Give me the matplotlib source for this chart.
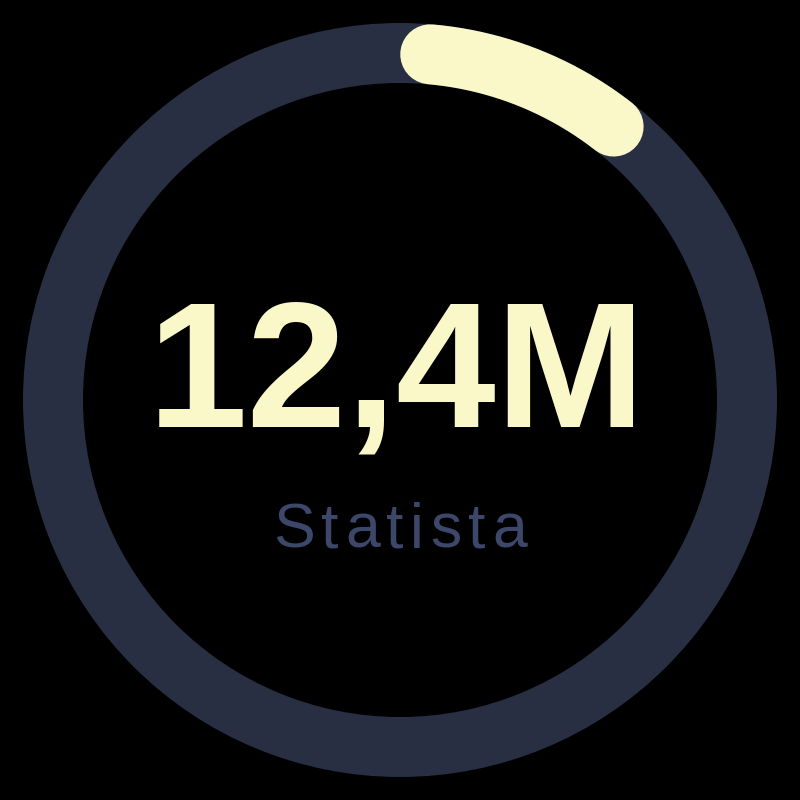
import numpy as np
import matplotlib.pyplot as plt
from matplotlib.patches import Wedge
from matplotlib.font_manager import FontProperties

# gauge data
value_label = "12,4M"
source_label = "Statista"
start_deg = 5     # arc start, degrees clockwise from top
end_deg = 38      # arc end, degrees clockwise from top

bg = '#000000'
track_color = '#282f43'
arc_color = '#faf7c9'
source_color = '#3c4769'

fig = plt.figure(figsize=(8, 8), dpi=100, facecolor=bg)
ax = fig.add_axes([0, 0, 1, 1])
ax.set_facecolor(bg)
ax.set_xlim(0, 800)
ax.set_ylim(800, 0)   # pixel-like coords, y down
ax.set_aspect('equal')
ax.axis('off')

cx, cy = 400, 400
r_out, width = 377, 60
r_mid = r_out - width / 2

# background track
ax.add_patch(Wedge((cx, cy), r_out, 0, 360, width=width, facecolor=track_color, edgecolor='none'))

# progress arc with rounded ends
theta = np.radians(np.linspace(start_deg, end_deg, 200))
xs = cx + r_mid * np.sin(theta)
ys = cy - r_mid * np.cos(theta)
ax.plot(xs, ys, color=arc_color, linewidth=width * 0.72, solid_capstyle='round')

ax.text(cx - 3, 427, value_label, ha='center', va='baseline', color=arc_color,
        fontsize=129, fontweight='bold', family=['Liberation Sans', 'DejaVu Sans'])

# source label, drawn char by char for a bit of letter spacing
fp = FontProperties(family='Liberation Sans', size=45)
renderer = fig.canvas.get_renderer()
adv = []
for ch in source_label:
    t = ax.text(0, 0, ch, fontproperties=fp)
    adv.append(t.get_window_extent(renderer).width)
    t.remove()
tracking = 6.5
total = sum(adv) + tracking * (len(adv) - 1)
x = cx - total / 2
for ch, w in zip(source_label, adv):
    ax.text(x, 548, ch, ha='left', va='baseline', color=source_color, fontproperties=fp)
    x += w + tracking

fig.savefig('out.png', dpi=100, facecolor=bg)
